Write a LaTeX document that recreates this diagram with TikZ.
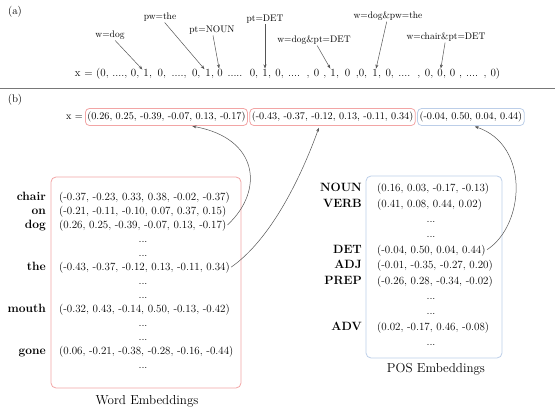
\documentclass[tikz,border=0pt]{standalone}
\usetikzlibrary{arrows.meta,positioning}
\definecolor{wred}{RGB}{242,165,165}
\definecolor{pblue}{RGB}{188,206,232}
\definecolor{arr}{RGB}{85,85,85}
\definecolor{rulec}{RGB}{120,120,120}
\newcommand\tsp{\ \null}
\begin{document}
\begin{tikzpicture}[x=1pt,y=-1pt,
  tag/.style={font=\fontsize{11}{13}\selectfont, inner sep=0pt},
  lab/.style={font=\fontsize{9.5}{11}\selectfont, inner sep=1pt},
  vec/.style={font=\fontsize{11}{13}\selectfont, inner sep=0pt, anchor=base},
  arrow/.style={draw=arr, line width=0.5pt, -{Stealth[length=4pt,width=3pt]}},
  vbox/.style={font=\fontsize{10.2}{12}\selectfont, rounded corners=4pt, line width=0.8pt, inner xsep=2pt, minimum height=17pt},
  rowlab/.style={font=\fontsize{12}{14}\selectfont\bfseries, anchor=base east, inner sep=0pt},
  rowvec/.style={font=\fontsize{11}{13}\selectfont, anchor=base west, inner sep=0pt},
  rowdots/.style={font=\fontsize{11}{13}\selectfont, anchor=base, inner sep=0pt},
  embox/.style={rounded corners=5pt, line width=0.8pt},
  title/.style={font=\fontsize{13}{15}\selectfont, inner sep=0pt}]
\useasboundingbox (0,0) rectangle (555,409);

% ---------- (a) ----------
\node[tag] (ta) at (15,12) {(a)};
\node[vec] (o1) at (146,77) {1};
\node[vec] (o2) at (208,77) {1};
\node[vec] (z3) at (220,77) {0};
\node[vec] (o4) at (265,77) {1};
\node[vec] (o5) at (333,77) {1};
\node[vec] (o6) at (375,77) {1};
\node[vec] (z7) at (440,77) {0};
\node[vec, anchor=base east] (s0) at (o1.base west) {x = (0, ...., 0,\tsp};
\node[vec, anchor=base west] (s1) at (o1.base east) {\makebox[56.5pt][s]{, 0, ...., 0,\ }};
\node[vec, anchor=base west] (s2) at (o2.base east) {\makebox[6.5pt][s]{,\ }};
\node[vec, anchor=base west] (s3) at (z3.base east) {\makebox[39.5pt][s]{\ ..... 0,\ }};
\node[vec, anchor=base west] (s4) at (o4.base east) {\makebox[62.5pt][s]{, 0, .... , 0 ,\ }};
\node[vec, anchor=base west] (s5) at (o5.base east) {\makebox[36.5pt][s]{, 0 ,0,\ }};
\node[vec, anchor=base west] (s6) at (o6.base east) {\makebox[59.5pt][s]{, 0, .... , 0,\ }};
\node[vec, anchor=base west] (s7) at (z7.base east) {\makebox[57pt][s]{, 0 , .... , 0)}};

\node[lab] (l1) at (110,35) {w=dog};
\node[lab] (l2) at (160,17) {pw=the};
\node[lab] (l3) at (212,30) {pt=NOUN};
\node[lab] (l4) at (265,19) {pt=DET};
\node[lab] (l5) at (314,40) {w=dog\&pt=DET};
\node[lab] (l6) at (388,16) {w=dog\&pw=the};
\node[lab] (l7) at (446,37) {w=chair\&pt=DET};

\draw[arrow, shorten >=1pt] (l1) -- (o1);
\draw[arrow, shorten >=1pt] (l2) -- (o2);
\draw[arrow, shorten >=1pt] (l3) -- (z3);
\draw[arrow, shorten >=1pt] (l4) -- (o4);
\draw[arrow, shorten >=1pt] (l5) -- (o5);
\draw[arrow, shorten >=1pt] (l6) -- (o6);
\draw[arrow, shorten >=1pt] (l7) -- (z7);

% ---------- rule ----------
\draw[rulec, line width=0.8pt] (0,88) -- (555,88);

% ---------- (b) ----------
\node[tag] (tb) at (15,100) {(b)};
\node[font=\fontsize{10.2}{12}\selectfont, anchor=east, inner sep=1pt] (xeq) at (84,117) {x =};
\node[vbox, draw=wred, anchor=west] (b1) at (85,117) {(0.26, 0.25, -0.39, -0.07, 0.13, -0.17)};
\node[vbox, draw=wred, right=1.5pt of b1] (b2) {(-0.43, -0.37, -0.12, 0.13, -0.11, 0.34)};
\node[vbox, draw=pblue, right=1.5pt of b2] (b3) {(-0.04, 0.50, 0.04, 0.44)};

% Word embeddings
\node[embox, draw=wred, minimum width=190pt, minimum height=211pt] (wbox) at (146,282.5) {};
\node[title] (wtitle) at (147,401) {Word Embeddings};

\node[rowlab] (wl0) at (46,200.7) {chair};
\node[rowvec] (wv0) at (59,200.7) {(-0.37, -0.23, 0.33, 0.38, -0.02, -0.37)};
\node[rowlab] (wl1) at (46,214.7) {on};
\node[rowvec] (wv1) at (59,214.7) {(-0.21, -0.11, -0.10, 0.07, 0.37, 0.15)};
\node[rowlab] (wl2) at (46,228.7) {dog};
\node[rowvec] (wv2) at (59,228.7) {(0.26, 0.25, -0.39, -0.07, 0.13, -0.17)};
\node[rowdots] (wd3) at (143,242.7) {...};
\node[rowdots] (wd4) at (143,256.7) {...};
\node[rowlab] (wl5) at (46,270.7) {the};
\node[rowvec] (wv5) at (59,270.7) {(-0.43, -0.37, -0.12, 0.13, -0.11, 0.34)};
\node[rowdots] (wd6) at (143,284.7) {...};
\node[rowdots] (wd7) at (143,298.7) {...};
\node[rowlab] (wl8) at (46,312.7) {mouth};
\node[rowvec] (wv8) at (59,312.7) {(-0.32, 0.43, -0.14, 0.50, -0.13, -0.42)};
\node[rowdots] (wd9) at (143,326.7) {...};
\node[rowdots] (wd10) at (143,340.7) {...};
\node[rowlab] (wl11) at (46,354.7) {gone};
\node[rowvec] (wv11) at (59,354.7) {(0.06, -0.21, -0.38, -0.28, -0.16, -0.44)};
\node[rowdots] (wd12) at (143,368.7) {...};

% POS embeddings
\node[embox, draw=pblue, minimum width=136pt, minimum height=182pt] (pbox) at (434,267) {};
\node[title] (ptitle) at (436,369) {POS Embeddings};

\node[rowlab] (pl0) at (362,191.7) {NOUN};
\node[rowvec] (pv0) at (377,191.7) {(0.16, 0.03, -0.17, -0.13)};
\node[rowlab] (pl1) at (362,207.1) {VERB};
\node[rowvec] (pv1) at (377,207.1) {(0.41, 0.08, 0.44, 0.02)};
\node[rowdots] (pd2) at (431,222.5) {...};
\node[rowdots] (pd3) at (431,237.9) {...};
\node[rowlab] (pl4) at (362,253.3) {DET};
\node[rowvec] (pv4) at (377,253.3) {(-0.04, 0.50, 0.04, 0.44)};
\node[rowlab] (pl5) at (362,268.7) {ADJ};
\node[rowvec] (pv5) at (377,268.7) {(-0.01, -0.35, -0.27, 0.20)};
\node[rowlab] (pl6) at (362,284.1) {PREP};
\node[rowvec] (pv6) at (377,284.1) {(-0.26, 0.28, -0.34, -0.02)};
\node[rowdots] (pd7) at (431,299.5) {...};
\node[rowdots] (pd8) at (431,314.9) {...};
\node[rowlab] (pl9) at (362,330.3) {ADV};
\node[rowvec] (pv9) at (377,330.3) {(0.02, -0.17, 0.46, -0.08)};
\node[rowdots] (pd10) at (431,345.7) {...};

% arrows (b)
\draw[arrow, shorten <=1.5pt, shorten >=2pt] (wv2.east) .. controls (265,190) and (258,138) .. ([xshift=24pt]b1.south);
\draw[arrow, shorten <=1.5pt, shorten >=2pt] (wv5.east) .. controls (270,240) and (300,180) .. ([xshift=-13pt]b2.south);
\draw[arrow, shorten <=1.5pt, shorten >=2pt] (pv4.east) .. controls (525,225) and (530,145) .. ([xshift=2pt]b3.south);
\end{tikzpicture}
\end{document}
